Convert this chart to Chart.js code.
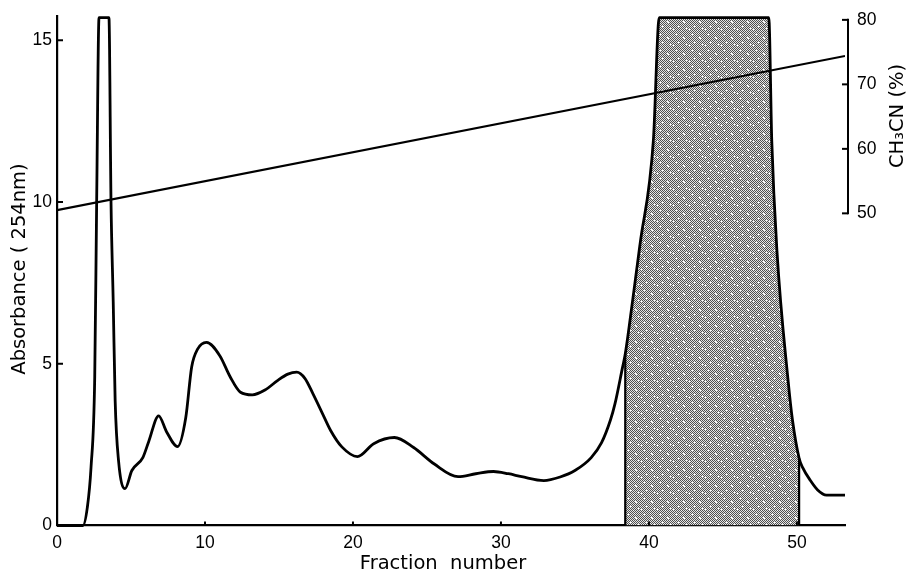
<!DOCTYPE html>
<html>
<head>
<meta charset="utf-8">
<script src="https://cdn.jsdelivr.net/npm/chart.js@4.4.0/dist/chart.umd.min.js"></script>
<style>
  body { margin: 0; background: #fff; }
  canvas { display: block; }
</style>
</head>
<body>
<canvas id="elution" width="912" height="577"></canvas>
<script>
// elution profile: fraction number vs absorbance at 254 nm (recorder saturates at 15.7)
const fractionNo = [0, 1.75, 2.05, 2.3, 2.55, 2.68, 2.84, 3.51, 3.65, 3.8, 3.93, 4.16, 4.6, 5.06, 5.8, 6.2, 6.87, 7.4, 8.15, 8.7, 9.1, 9.5, 10.1, 11.0, 11.7, 12.4, 13.2, 14.1, 14.9, 15.6, 16.2, 16.75, 17.3, 17.9, 18.5, 19.25, 20.3, 21.4, 22.8, 24.1, 25.5, 27.1, 28.3, 29.5, 30.5, 31.4, 32.9, 34.0, 35.0, 36.1, 36.8, 37.4, 37.7, 38.2, 38.4, 38.9, 39.4, 40.3, 40.7, 48.1, 48.3, 48.65, 49.4, 49.7, 50.15, 50.4, 50.9, 51.4, 52.0, 53.25]
const absorbance = [0, 0, 0.56, 1.8, 4.6, 10.0, 15.7, 15.7, 10.0, 6.9, 3.86, 2.0, 1.14, 1.7, 2.1, 2.6, 3.39, 2.9, 2.44, 3.33, 4.9, 5.45, 5.66, 5.25, 4.6, 4.12, 4.04, 4.2, 4.48, 4.68, 4.74, 4.55, 4.07, 3.5, 2.93, 2.43, 2.13, 2.53, 2.72, 2.41, 1.9, 1.51, 1.6, 1.67, 1.6, 1.51, 1.39, 1.5, 1.7, 2.1, 2.56, 3.26, 3.75, 4.85, 5.3, 6.96, 8.7, 11.9, 15.7, 15.7, 11.9, 8.5, 4.5, 3.26, 2.08, 1.78, 1.4, 1.1, 0.94, 0.94]

// linear CH3CN gradient
const gradientFraction = [0, 53.25]
const gradientCH3CN = [50.5, 74.4]

// pooled fractions
const poolFrom = 38.4
const poolTo = 50.15

const xTicks = [0, 10, 20, 30, 40, 50]
const absTicks = [0, 5, 10, 15]
const ch3cnTicks = [50, 60, 70, 80]

const TITLE_FONT = '19.5px DejaVu Sans'

const trace = fractionNo.map((f, i) => ({x: f, y: absorbance[i]}))
const pooled = trace.filter(p => p.x >= poolFrom && p.x <= poolTo)
const gradient = gradientFraction.map((f, i) => ({x: f, y: gradientCH3CN[i]}))

// halftone stipple for the pooled area: checker dots with a few white flecks
const FLECKS = [[3, 2], [4, 2], [11, 5], [12, 6], [6, 10], [7, 10], [14, 12], [1, 13], [9, 14], [10, 1]]
let stippleCache = null
function stipple(ctx) {
  if (stippleCache) return stippleCache
  const c = document.createElement('canvas')
  c.width = 16; c.height = 16
  const g = c.getContext('2d')
  g.fillStyle = '#e4e4e4'
  g.fillRect(0, 0, 16, 16)
  g.fillStyle = '#505050'
  for (let y = 0; y < 16; y++)
    for (let x = 0; x < 16; x++)
      if ((x + y) % 2 === 0) g.fillRect(x, y, 1, 1)
  g.fillStyle = '#fafafa'
  FLECKS.forEach(([x, y]) => g.fillRect(x, y, 1, 1))
  stippleCache = ctx.createPattern(c, 'repeat')
  return stippleCache
}

const absAt = f => absorbance[fractionNo.indexOf(f)]

const decor = {
  id: 'decor',
  afterDatasetsDraw(chart) {
    const {ctx, chartArea, scales} = chart
    const x = scales.x, y = scales.y, yR = scales.yR
    ctx.save()
    ctx.strokeStyle = '#000'
    ctx.lineCap = 'butt'

    // pool boundaries
    ctx.lineWidth = 2.2
    ;[poolFrom, poolTo].forEach(f => {
      const px = x.getPixelForValue(f)
      ctx.beginPath()
      ctx.moveTo(px, y.getPixelForValue(0))
      ctx.lineTo(px, y.getPixelForValue(absAt(f)))
      ctx.stroke()
    })

    // inward tick marks
    ctx.lineWidth = 2
    absTicks.forEach(v => {
      const py = y.getPixelForValue(v)
      ctx.beginPath(); ctx.moveTo(chartArea.left, py); ctx.lineTo(chartArea.left + 6, py); ctx.stroke()
    })
    xTicks.forEach(v => {
      const px = x.getPixelForValue(v)
      ctx.beginPath(); ctx.moveTo(px, chartArea.bottom); ctx.lineTo(px, chartArea.bottom - 4); ctx.stroke()
    })

    // CH3CN axis only spans 50-80 %
    const ax = chartArea.right + 3
    ctx.beginPath()
    ctx.moveTo(ax, yR.getPixelForValue(ch3cnTicks[0]) + 1)
    ctx.lineTo(ax, yR.getPixelForValue(ch3cnTicks[ch3cnTicks.length - 1]) - 1)
    ctx.stroke()
    ch3cnTicks.forEach(v => {
      const py = yR.getPixelForValue(v)
      ctx.beginPath(); ctx.moveTo(ax - 6, py); ctx.lineTo(ax, py); ctx.stroke()
    })

    // axis titles
    ctx.fillStyle = '#000'
    ctx.font = TITLE_FONT
    ctx.textAlign = 'center'
    ctx.textBaseline = 'middle'
    ctx.fillText('Fraction  number', 443, 564)

    ctx.save()
    ctx.translate(20, 269)
    ctx.rotate(-Math.PI / 2)
    ctx.fillText('Absorbance ( 254nm)', 0, 0)
    ctx.restore()

    ctx.save()
    ctx.translate(898, 116)
    ctx.rotate(-Math.PI / 2)
    ctx.fillText('CH\u2083CN (%)', 0, 0)
    ctx.restore()

    ctx.restore()
  }
}

const tickFont = {family: 'Liberation Sans', size: 17.5}

// fixed axis sizes, no extra label overhang padding
const fixSize = (w, h) => s => {
  if (w !== null) s.width = w
  if (h !== null) s.height = h
  s.paddingTop = 0; s.paddingBottom = 0; s.paddingLeft = 0; s.paddingRight = 0
}

new Chart(document.getElementById('elution'), {
  type: 'line',
  data: {
    datasets: [
      {
        data: trace,
        borderColor: '#000',
        borderWidth: 2.8,
        cubicInterpolationMode: 'monotone',
        pointRadius: 0,
        fill: false,
        clip: 6,
        order: 1
      },
      {
        data: gradient,
        yAxisID: 'yR',
        borderColor: '#000',
        borderWidth: 2.2,
        pointRadius: 0,
        fill: false,
        order: 2
      },
      {
        data: pooled,
        borderWidth: 0,
        borderColor: 'rgba(0,0,0,0)',
        backgroundColor: ctx => stipple(ctx.chart.ctx),
        cubicInterpolationMode: 'monotone',
        pointRadius: 0,
        fill: 'origin',
        clip: 6,
        order: 3
      }
    ]
  },
  options: {
    responsive: false,
    animation: false,
    layout: {padding: {top: 16, left: 0, right: 0, bottom: 0}},
    plugins: {legend: {display: false}, tooltip: {enabled: false}},
    scales: {
      x: {
        type: 'linear',
        min: 0,
        max: 53.25,
        afterBuildTicks: s => { s.ticks = xTicks.map(v => ({value: v})) },
        afterFit: fixSize(null, 51.5),
        grid: {display: false, drawTicks: false},
        border: {color: '#000', width: 2.2},
        ticks: {color: '#000', font: tickFont, padding: 7, maxRotation: 0}
      },
      y: {
        position: 'left',
        min: 0,
        max: 15.75,
        afterBuildTicks: s => { s.ticks = absTicks.map(v => ({value: v})) },
        afterFit: fixSize(57, null),
        grid: {display: false, drawTicks: false},
        border: {color: '#000', width: 2.2},
        ticks: {color: '#000', font: tickFont, padding: 5}
      },
      yR: {
        position: 'right',
        min: 1.6,
        max: 80.6,
        afterBuildTicks: s => { s.ticks = ch3cnTicks.map(v => ({value: v})) },
        afterFit: fixSize(67, null),
        grid: {display: false, drawTicks: false},
        border: {display: false},
        ticks: {color: '#000', font: tickFont, padding: 12}
      }
    }
  },
  plugins: [decor]
})
</script>
</body>
</html>
